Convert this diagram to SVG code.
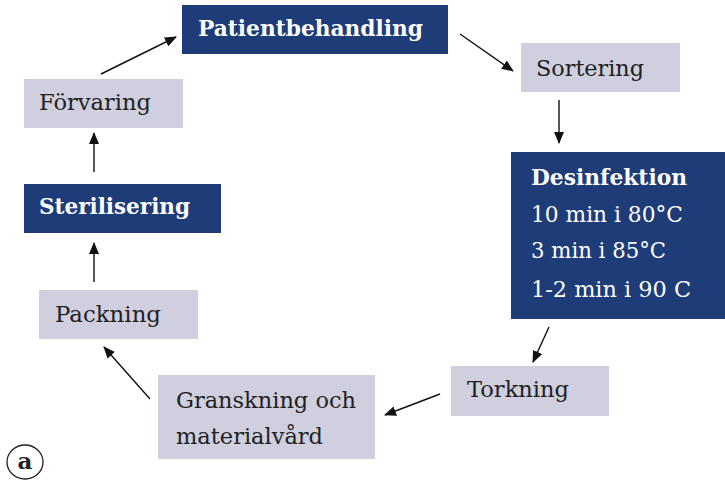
<svg xmlns="http://www.w3.org/2000/svg" width="725" height="481" viewBox="0 0 725 481">
<style>
.dark{fill:#1e3c78}
.light{fill:#cfcfdf}
text{font-family:"DejaVu Serif","Liberation Serif",serif;font-size:23px}
.w{fill:#ffffff}
.k{fill:#222222}
.b{font-weight:bold}
.conn line{stroke:#111;stroke-width:1.4;marker-end:url(#ah)}
</style>
<defs>
<marker id="ah" viewBox="0 0 12 10" refX="11" refY="5" markerWidth="12" markerHeight="10" markerUnits="userSpaceOnUse" orient="auto">
<path d="M0,0 L12,5 L0,10 Z" fill="#111"/>
</marker>
</defs>
<rect width="725" height="481" fill="#fff"/>
<g id="patientbehandling"><rect class="dark" x="182" y="5" width="266" height="49"/><text class="w b" x="198" y="36" textLength="225" lengthAdjust="spacingAndGlyphs">Patientbehandling</text></g>
<g id="sortering"><rect class="light" x="521" y="43" width="159" height="49"/><text class="k" x="536" y="76" textLength="108" lengthAdjust="spacingAndGlyphs">Sortering</text></g>
<g id="desinfektion"><rect class="dark" x="511" y="152" width="214" height="167"/>
<text class="w b" x="531" y="185" textLength="156" lengthAdjust="spacingAndGlyphs">Desinfektion</text>
<text class="w" x="531" y="222" textLength="152" lengthAdjust="spacingAndGlyphs">10 min i 80°C</text>
<text class="w" x="531" y="258" textLength="135" lengthAdjust="spacingAndGlyphs">3 min i 85°C</text>
<text class="w" x="531" y="297" textLength="160" lengthAdjust="spacingAndGlyphs">1-2 min i 90 C</text></g>
<g id="torkning"><rect class="light" x="451" y="366" width="158" height="50"/><text class="k" x="467" y="397" textLength="102" lengthAdjust="spacingAndGlyphs">Torkning</text></g>
<g id="granskning"><rect class="light" x="158" y="375" width="217" height="84"/><text class="k" x="176" y="408" textLength="180" lengthAdjust="spacingAndGlyphs">Granskning och</text><text class="k" x="176" y="444" textLength="147" lengthAdjust="spacingAndGlyphs">materialvård</text></g>
<g id="packning"><rect class="light" x="39" y="290" width="159" height="49"/><text class="k" x="55" y="322" textLength="106" lengthAdjust="spacingAndGlyphs">Packning</text></g>
<g id="sterilisering"><rect class="dark" x="24" y="184" width="197" height="49"/><text class="w b" x="39" y="214" textLength="151" lengthAdjust="spacingAndGlyphs">Sterilisering</text></g>
<g id="forvaring"><rect class="light" x="24" y="79" width="159" height="49"/><text class="k" x="39" y="110" textLength="112" lengthAdjust="spacingAndGlyphs">Förvaring</text></g>
<g id="label-a"><ellipse cx="25" cy="462" rx="18" ry="17" fill="none" stroke="#222" stroke-width="1.3"/><text class="k b" x="25" y="469" text-anchor="middle" font-size="20">a</text></g>
<g id="connectors" class="conn">
<line x1="101" y1="74" x2="176" y2="37"/>
<line x1="460" y1="34" x2="513" y2="71"/>
<line x1="559" y1="100" x2="559" y2="143"/>
<line x1="549" y1="327" x2="533" y2="362"/>
<line x1="440" y1="394" x2="385" y2="415"/>
<line x1="150" y1="399" x2="104" y2="347"/>
<line x1="94" y1="282" x2="94" y2="243"/>
<line x1="94" y1="172" x2="94" y2="133"/>
</g>
</svg>
